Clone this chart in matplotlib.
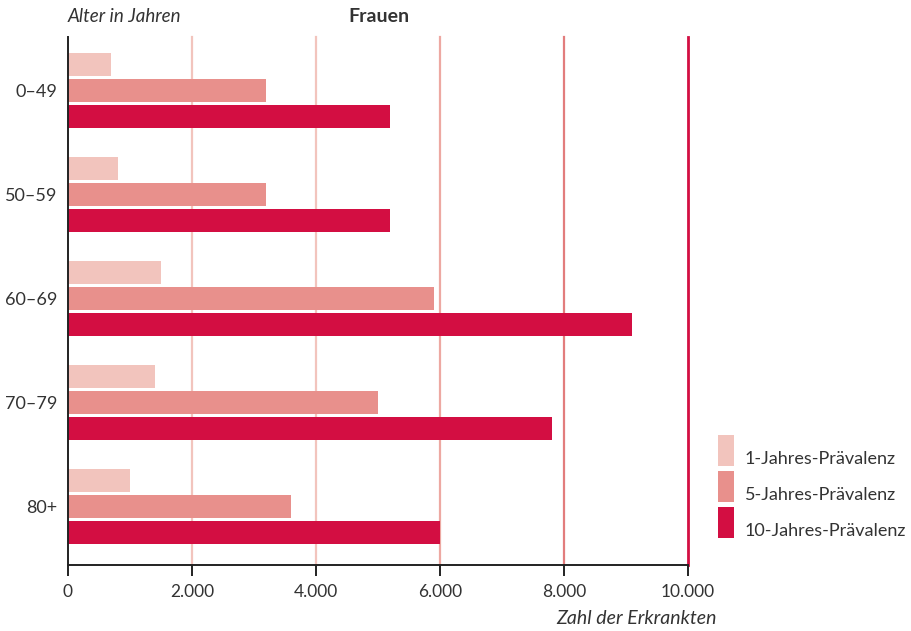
import matplotlib
matplotlib.use("Agg")
import matplotlib.pyplot as plt
from matplotlib.patches import Rectangle
import numpy as np

plt.rcParams['font.family'] = ['Lato', 'DejaVu Sans']

categories = ["0–49", "50–59", "60–69", "70–79", "80+"]
series_names = ["1-Jahres-Prävalenz", "5-Jahres-Prävalenz", "10-Jahres-Prävalenz"]
prev_1 = [700, 800, 1500, 1400, 1000]
prev_5 = [3200, 3200, 5900, 5000, 3600]
prev_10 = [5200, 5200, 9100, 7800, 6000]
xticks = [0, 2000, 4000, 6000, 8000, 10000]
xticklabels = ["0", "2.000", "4.000", "6.000", "8.000", "10.000"]

colors = ["#f2c4bd", "#e8908c", "#d30e42"]
grid_colors = ["#f2c4bd", "#f2c4bd", "#eda8a2", "#e27d7d", "#d30e42"]
text_color = "#333333"

W, H = 912, 631
fig = plt.figure(figsize=(W / 100, H / 100), dpi=100)
ax = fig.add_axes([68 / W, 1 - 565 / H, 620 / W, 528 / H])

y = np.arange(len(categories))
bh = 0.221
step = 0.25
for i, (vals, c) in enumerate(zip([prev_1, prev_5, prev_10], colors)):
    ax.barh(y + (i - 1) * step, vals, height=bh, color=c, zorder=3, linewidth=0)

for xv, gc in zip(xticks[1:], grid_colors):
    ax.axvline(xv, color=gc, lw=1.6 if xv < 10000 else 2.0, zorder=1, clip_on=False)

ax.set_xlim(0, 10000)
ax.set_ylim(4.567, -0.51)
ax.set_xticks(xticks)
ax.set_xticklabels(xticklabels)
ax.set_yticks(y)
ax.set_yticklabels(categories)

for s in ["top", "right"]:
    ax.spines[s].set_visible(False)
for s in ["left", "bottom"]:
    ax.spines[s].set_color("#222222")
    ax.spines[s].set_linewidth(1.4)
    ax.spines[s].set_zorder(5)

ax.tick_params(axis="x", direction="out", length=8, width=1.4, color="#222222",
               labelsize=12.5, labelcolor=text_color, pad=6)
ax.tick_params(axis="y", length=0, labelsize=13, labelcolor=text_color, pad=8)

fig.text(68 / W, 1 - 17 / H, "Alter in Jahren", style="italic", fontsize=13.5,
         color=text_color, ha="left", va="center")
fig.text(379 / W, 1 - 17 / H, "Frauen", fontweight="bold", fontsize=14,
         color=text_color, ha="center", va="center")
fig.text(717 / W, 1 - 618 / H, "Zahl der Erkrankten", style="italic", fontsize=14,
         color=text_color, ha="right", va="center")

# legend
leg_tops = [435, 471, 507]
for name, c, top in zip(series_names, colors, leg_tops):
    fig.patches.append(Rectangle((718 / W, 1 - (top + 31) / H), 16 / W, 31 / H,
                                 transform=fig.transFigure, color=c, lw=0))
    fig.text(745 / W, 1 - (top + 24) / H, name, fontsize=13, color=text_color,
             ha="left", va="center")

fig.savefig("out.png", dpi=100, facecolor="white")
